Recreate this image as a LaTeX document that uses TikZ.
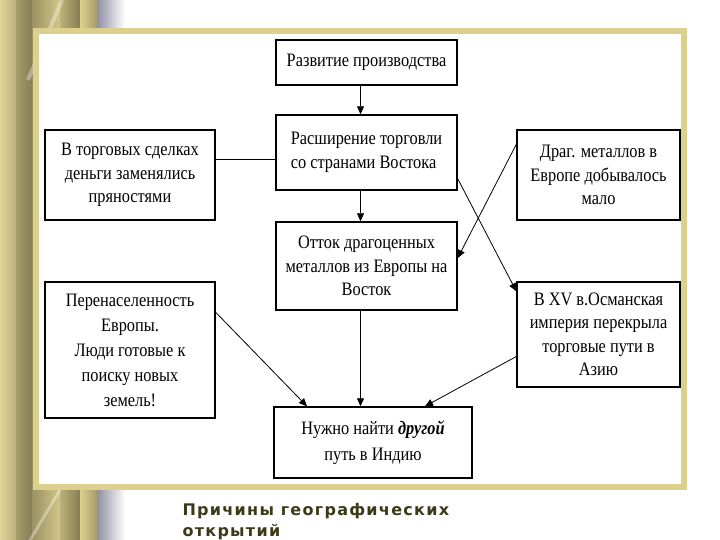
\documentclass[tikz,border=0pt]{standalone}
\usepackage{fontspec}
\setmainfont{Liberation Serif}[FakeStretch=0.86]
\newfontfamily\titlefont{DejaVu Sans}[LetterSpace=8]
\usetikzlibrary{arrows.meta}
\definecolor{framegold}{HTML}{DDD08E}
\definecolor{titleolive}{HTML}{3A3A18}

\begin{document}
\begin{tikzpicture}[x=1pt, y=-1pt,
                    box/.style={draw, line width=1.4pt, fill=white, inner sep=5pt,
                                font=\fontsize{19}{23.5}\selectfont, align=center},
                    arr/.style={-{Triangle[length=8pt,width=7pt]}, line width=0.8pt}
                    ]
                    \clip (0,0) rectangle (720,540);
                    % decorative stripes on the left
                    \shade[left color=white!10!framegold, right color=framegold!85!black] (0,0) rectangle (16,540);
                    \shade[left color=framegold!75!black, right color=framegold!60!black] (16,0) rectangle (32,540);
                    \shade[left color=framegold!70!black, right color=framegold!95!black] (32,0) rectangle (60,540);
                    \shade[left color=framegold!85!black, right color=framegold!60!black] (60,0) rectangle (80,540);
                    \shade[left color=framegold, right color=framegold!75!black] (80,0) rectangle (97,540);
                    \shade[left color=gray!90!blue!80, right color=white] (97,0) rectangle (125,540);
                    \draw[white, opacity=0.35, line width=4pt] (28,80) -- (62,0);
                    \draw[white, opacity=0.35, line width=3pt] (30,540) -- (60,490);

                    % frame
                    \draw[framegold, line width=6pt, fill=white] (36,31) rectangle (684,487);

                    \node[box, minimum width=181pt, minimum height=45pt] (prod) at (366.5,62.5) {Развитие производства};
                    \node[box, minimum width=181pt, minimum height=75pt, align=left] (trade) at (366.5,152.5) {Расширение торговли\\со странами Востока};
                    \node[box, minimum width=181pt, minimum height=88pt] (outflow) at (366.5,266) {Отток драгоценных\\металлов из Европы на\\Восток};
                    \node[box, minimum width=198pt, minimum height=71pt, font=\fontsize{19}{26}\selectfont] (india) at (373,442.5) {Нужно найти \textbf{\textit{другой}}\\путь в Индию};
                    \node[box, minimum width=170pt, minimum height=90pt] (spice) at (130,175) {В торговых сделках\\деньги заменялись\\пряностями};
                    \node[box, minimum width=170pt, minimum height=136pt, font=\fontsize{19}{25}\selectfont] (overpop) at (130,350) {Перенаселенность\\Европы.\\Люди готовые к\\поиску новых\\земель!};
                    \node[box, minimum width=163pt, minimum height=90pt] (metals) at (598.5,175) {Драг. металлов в\\Европе добывалось\\мало};
                    \node[box, minimum width=163pt, minimum height=105pt] (ottoman) at (598.5,334.5) {В XV в.Османская\\империя перекрыла\\торговые пути в\\Азию};

                    \foreach \i/\j in {prod/trade,trade/outflow,outflow/india}{
                        \draw[arr] ([xshift=-6pt]\i.south) -- ([xshift=-6pt]\i.south |- \j.north);
                    }
                    \draw[line width=0.8pt] ([yshift=16pt]spice.east) -- ([yshift=-6.5pt]trade.west);
                    \draw[arr] ([yshift=12pt]trade.south east) -- ([yshift=-10pt]ottoman.north west);
                    \draw[arr] ([yshift=-15pt]metals.north west) -- ([yshift=8pt]outflow.east);
                    \draw[arr] ([yshift=-31pt]overpop.north east) -- ([xshift=-66pt]india.north);
                    \draw[arr] ([yshift=-22pt]ottoman.west) -- ([xshift=52pt]india.north);

                    \node[anchor=north west, align=left, text=titleolive,
                          font=\titlefont\bfseries\fontsize{16}{21}\selectfont] (title) at (179,500) {Причины географических\\открытий};
                \end{tikzpicture}
\end{document}
